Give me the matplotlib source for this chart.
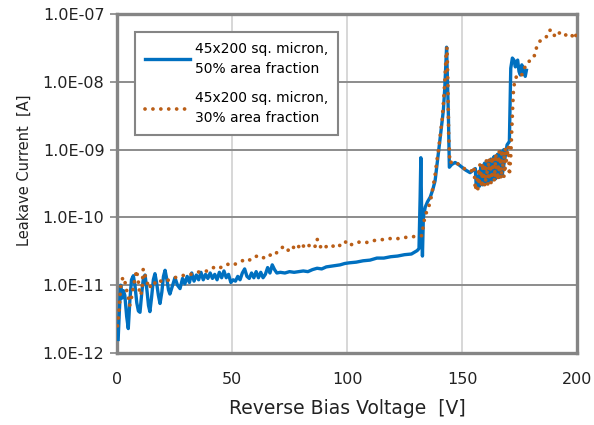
import numpy as np
import matplotlib
matplotlib.use("Agg")
import matplotlib.pyplot as plt
from matplotlib.ticker import FixedLocator, FixedFormatter

# datos (voltaje [V], log10 de la corriente [A])
v_50 = [0.5, 1.0, 1.6, 2.2, 2.8, 3.4, 4.2, 4.9, 5.6, 6.3, 7.1, 7.8, 8.6, 9.3, 10.0,
        10.8, 11.5, 12.2, 13.0, 13.7, 14.3, 15.0, 15.8, 16.5, 17.2, 18.0, 18.7, 19.5,
        20.2, 20.9, 21.7, 22.4, 23.0, 24.0, 25.2, 26.3, 27.4, 28.5, 29.5, 30.5, 31.5,
        32.5, 33.5, 34.5, 35.5, 36.5, 37.5, 38.5, 39.5, 40.5, 41.5, 42.5, 43.5, 44.5,
        45.5, 46.5, 47.5, 48.5, 49.5, 50.5, 51.5, 52.5, 53.5, 54.5, 55.5, 56.5, 57.5,
        58.5, 59.5, 60.5, 61.5, 62.5, 63.5, 64.5, 65.5, 66.5, 67.5, 68.5, 69.5, 71,
        73, 75, 77, 79, 81, 83, 85, 87, 89, 91, 93, 95, 97, 99, 101, 104, 107, 110,
        113, 116, 119, 122, 125, 128, 130.5, 131.3, 131.8, 132.1, 132.4, 132.8, 133.2,
        134.0, 135.0, 136.2, 137.3, 138.3, 139.4, 140.4, 141.2, 141.9, 142.5, 142.9,
        143.3, 143.7, 144.1, 144.5, 145.5, 147.0, 148.5, 150.0, 151.5, 153.5, 155.0,
        155.8, 156.2, 158.4, 157.6, 159.8, 159.0, 161.2, 160.4, 162.6, 161.8, 164.0,
        163.2, 165.4, 164.6, 166.8, 166.0, 168.2, 167.4, 169.6, 170.6, 171.2, 171.9,
        172.6, 173.2, 173.6, 174.2, 174.8, 175.4, 176.0, 176.8, 177.5, 178.0]
log_i_50 = [-11.80, -11.40, -11.00, -11.19, -11.08, -11.15, -11.46, -11.64, -11.22,
            -10.92, -10.86, -11.00, -11.26, -11.38, -11.40, -11.10, -10.89, -10.85,
            -11.07, -11.30, -11.39, -11.19, -10.92, -10.83, -10.96, -11.15, -11.27,
            -11.10, -10.87, -10.78, -10.92, -11.07, -11.13, -11.02, -10.89, -11.00,
            -11.05, -10.90, -10.98, -10.87, -10.96, -10.82, -10.94, -10.85, -10.92,
            -10.81, -10.92, -10.84, -10.90, -10.82, -10.90, -10.84, -10.92, -10.81,
            -10.89, -10.79, -10.89, -10.84, -10.96, -10.92, -10.94, -10.87, -10.92,
            -10.82, -10.76, -10.87, -10.90, -10.82, -10.89, -10.80, -10.89, -10.81,
            -10.89, -10.84, -10.74, -10.82, -10.70, -10.77, -10.82, -10.81, -10.82,
            -10.80, -10.81, -10.80, -10.79, -10.80, -10.77, -10.75, -10.76, -10.73,
            -10.72, -10.71, -10.70, -10.68, -10.67, -10.66, -10.64, -10.63, -10.60,
            -10.60, -10.58, -10.57, -10.55, -10.54, -10.49, -10.46, -9.70, -9.12,
            -9.80, -10.57, -10.00, -9.85, -9.77, -9.70, -9.59, -9.46, -9.15, -8.86,
            -8.62, -8.42, -8.10, -7.78, -7.49, -8.00, -8.52, -9.26, -9.22, -9.19,
            -9.22, -9.26, -9.30, -9.34, -9.30, -9.28, -9.55, -9.24, -9.54, -9.20,
            -9.52, -9.17, -9.50, -9.14, -9.47, -9.10, -9.45, -9.07, -9.43, -9.03,
            -9.41, -9.00, -9.39, -8.93, -8.88, -7.80, -7.65, -7.68, -7.78, -7.72,
            -7.68, -7.85, -7.90, -7.75, -7.85, -7.92, -7.83]

v_30 = [0.2, 0.6, 1.0, 1.5, 2.0, 2.6, 3.3, 4.0, 4.8, 5.5, 6.2, 7.0, 7.8, 8.5, 9.3,
        10.0, 10.8, 11.4, 12.2, 13.0, 14.0, 15.0, 16.0, 17.0, 18.5, 20, 22, 24, 26,
        28, 30, 32, 34, 36, 38, 40, 42, 44, 46, 48, 50, 52, 54, 56, 58, 60, 62, 64,
        66, 68, 70, 72, 74, 76, 78, 80, 82, 84, 86, 87, 89, 91, 93, 95, 97, 99, 101,
        103, 106, 109, 112, 115, 118, 121, 124, 127, 130, 132.5, 133.2, 133.8, 134.6,
        135.5, 136.5, 137.4, 138.2, 139.0, 139.8, 140.6, 141.4, 142.0, 142.6, 143.1,
        143.5, 143.9, 144.2, 144.7, 146, 147.8, 149.5, 151, 152.5, 154, 155.2,
        155.8, 157.8, 156.9, 159.2, 158.4, 160.6, 159.8, 162.0, 161.2, 163.4, 162.6,
        164.8, 164.0, 166.2, 165.4, 167.6, 166.8, 169.0, 168.2, 170.2, 170.6, 171.2,
        171.6, 172.0, 172.4, 173.2, 174.2, 175.4, 176.4, 177.4, 178.4, 180.3, 181.7,
        182.5, 183.9, 186.5, 187.9, 189.4, 190.4, 191.4, 193.3, 195.5, 197.7, 198.4,
        200.0]
log_i_30 = [-11.60, -11.48, -11.33, -11.05, -10.95, -10.88, -10.92, -11.05, -11.15,
            -11.30, -11.20, -11.05, -10.90, -10.78, -10.95, -11.15, -11.10, -10.76,
            -10.85, -10.95, -11.05, -10.98, -11.00, -10.93, -10.95, -10.92, -10.93,
            -10.90, -10.88, -10.86, -10.85, -10.84, -10.82, -10.80, -10.80, -10.78,
            -10.74, -10.76, -10.72, -10.69, -10.71, -10.68, -10.65, -10.61, -10.63,
            -10.58, -10.56, -10.60, -10.55, -10.57, -10.50, -10.44, -10.50, -10.42,
            -10.48, -10.38, -10.46, -10.40, -10.44, -10.32, -10.47, -10.43, -10.40,
            -10.45, -10.41, -10.35, -10.42, -10.38, -10.36, -10.37, -10.34, -10.33,
            -10.31, -10.32, -10.30, -10.29, -10.28, -10.27, -10.12, -10.00, -9.92,
            -9.85, -9.72, -9.55, -9.40, -9.18, -9.00, -8.78, -8.55, -8.27, -7.95,
            -7.60, -7.49, -8.10, -8.76, -9.20, -9.17, -9.20, -9.24, -9.28, -9.30,
            -9.32, -9.25, -9.60, -9.22, -9.58, -9.20, -9.56, -9.16, -9.54, -9.13,
            -9.51, -9.10, -9.49, -9.06, -9.47, -9.03, -9.45, -9.00, -9.43, -8.97,
            -9.40, -8.95, -9.38, -9.10, -8.75, -8.40, -8.10, -7.95, -7.90, -7.92,
            -7.88, -7.78, -7.71, -7.68, -7.60, -7.48, -7.40, -7.35, -7.24, -7.24,
            -7.34, -7.30, -7.26, -7.32, -7.30, -7.37, -7.29]

etiquetas = ["45x200 sq. micron,\n50% area fraction",
             "45x200 sq. micron,\n30% area fraction"]
y_ticks = [1e-12, 1e-11, 1e-10, 1e-9, 1e-8, 1e-7]
y_tick_labels = ["1.0E-12", "1.0E-11", "1.0E-10", "1.0E-09", "1.0E-08", "1.0E-07"]
x_ticks = [0, 50, 100, 150, 200]

plt.rcParams['font.family'] = ['DejaVu Sans']
fig = plt.figure(figsize=(5.94, 4.25), dpi=100)
ax = fig.add_axes([117/594, 72/425, 460/594, 339/425])

ax.plot(v_50, 10**np.array(log_i_50), color='#0070C0', lw=2.4,
        solid_joinstyle='round', label=etiquetas[0], zorder=3)
ax.plot(v_30, 10**np.array(log_i_30), color='#BA5E17', lw=2.7,
        linestyle=(0, (0.01, 2.1)), dash_capstyle='round', label=etiquetas[1], zorder=4)

ax.set_yscale('log')
ax.set_xlim(0, 200)
ax.set_ylim(1e-12, 1e-7)
ax.yaxis.set_major_locator(FixedLocator(y_ticks))
ax.yaxis.set_major_formatter(FixedFormatter(y_tick_labels))
ax.yaxis.set_minor_locator(FixedLocator([]))
ax.set_xticks(x_ticks)

# rejilla: horizontales mas oscuras, verticales claras
ax.grid(axis='y', color='#8c8c8c', lw=1.4)
ax.grid(axis='x', color='#d4d4d4', lw=1.3)
ax.set_axisbelow(True)

for s in ax.spines.values():
    s.set_color('#858585')
    s.set_linewidth(2.4)

ax.tick_params(axis='y', length=5, width=1.2, color='#858585', pad=4, labelsize=11.5, labelcolor='#222222')
ax.tick_params(axis='x', length=0, pad=14, labelsize=11.5, labelcolor='#222222')

ax.set_xlabel("Reverse Bias Voltage  [V]", fontsize=13.5, color='#222222', labelpad=8)
ax.set_ylabel("Leakave Current  [A]", fontsize=10.5, color='#222222')
ax.yaxis.set_label_coords(-0.185, 0.54)

leg = ax.legend(loc='upper left', bbox_to_anchor=(0.039, 0.947), borderaxespad=0,
                fontsize=10, handlelength=3.3, handletextpad=0.3, labelspacing=1.1,
                fancybox=False, framealpha=1, edgecolor='#858585', borderpad=0.7)
leg.get_frame().set_linewidth(1.5)
for t in leg.get_texts():
    t.set_linespacing(1.55)

plt.savefig("out.png", dpi=100)
